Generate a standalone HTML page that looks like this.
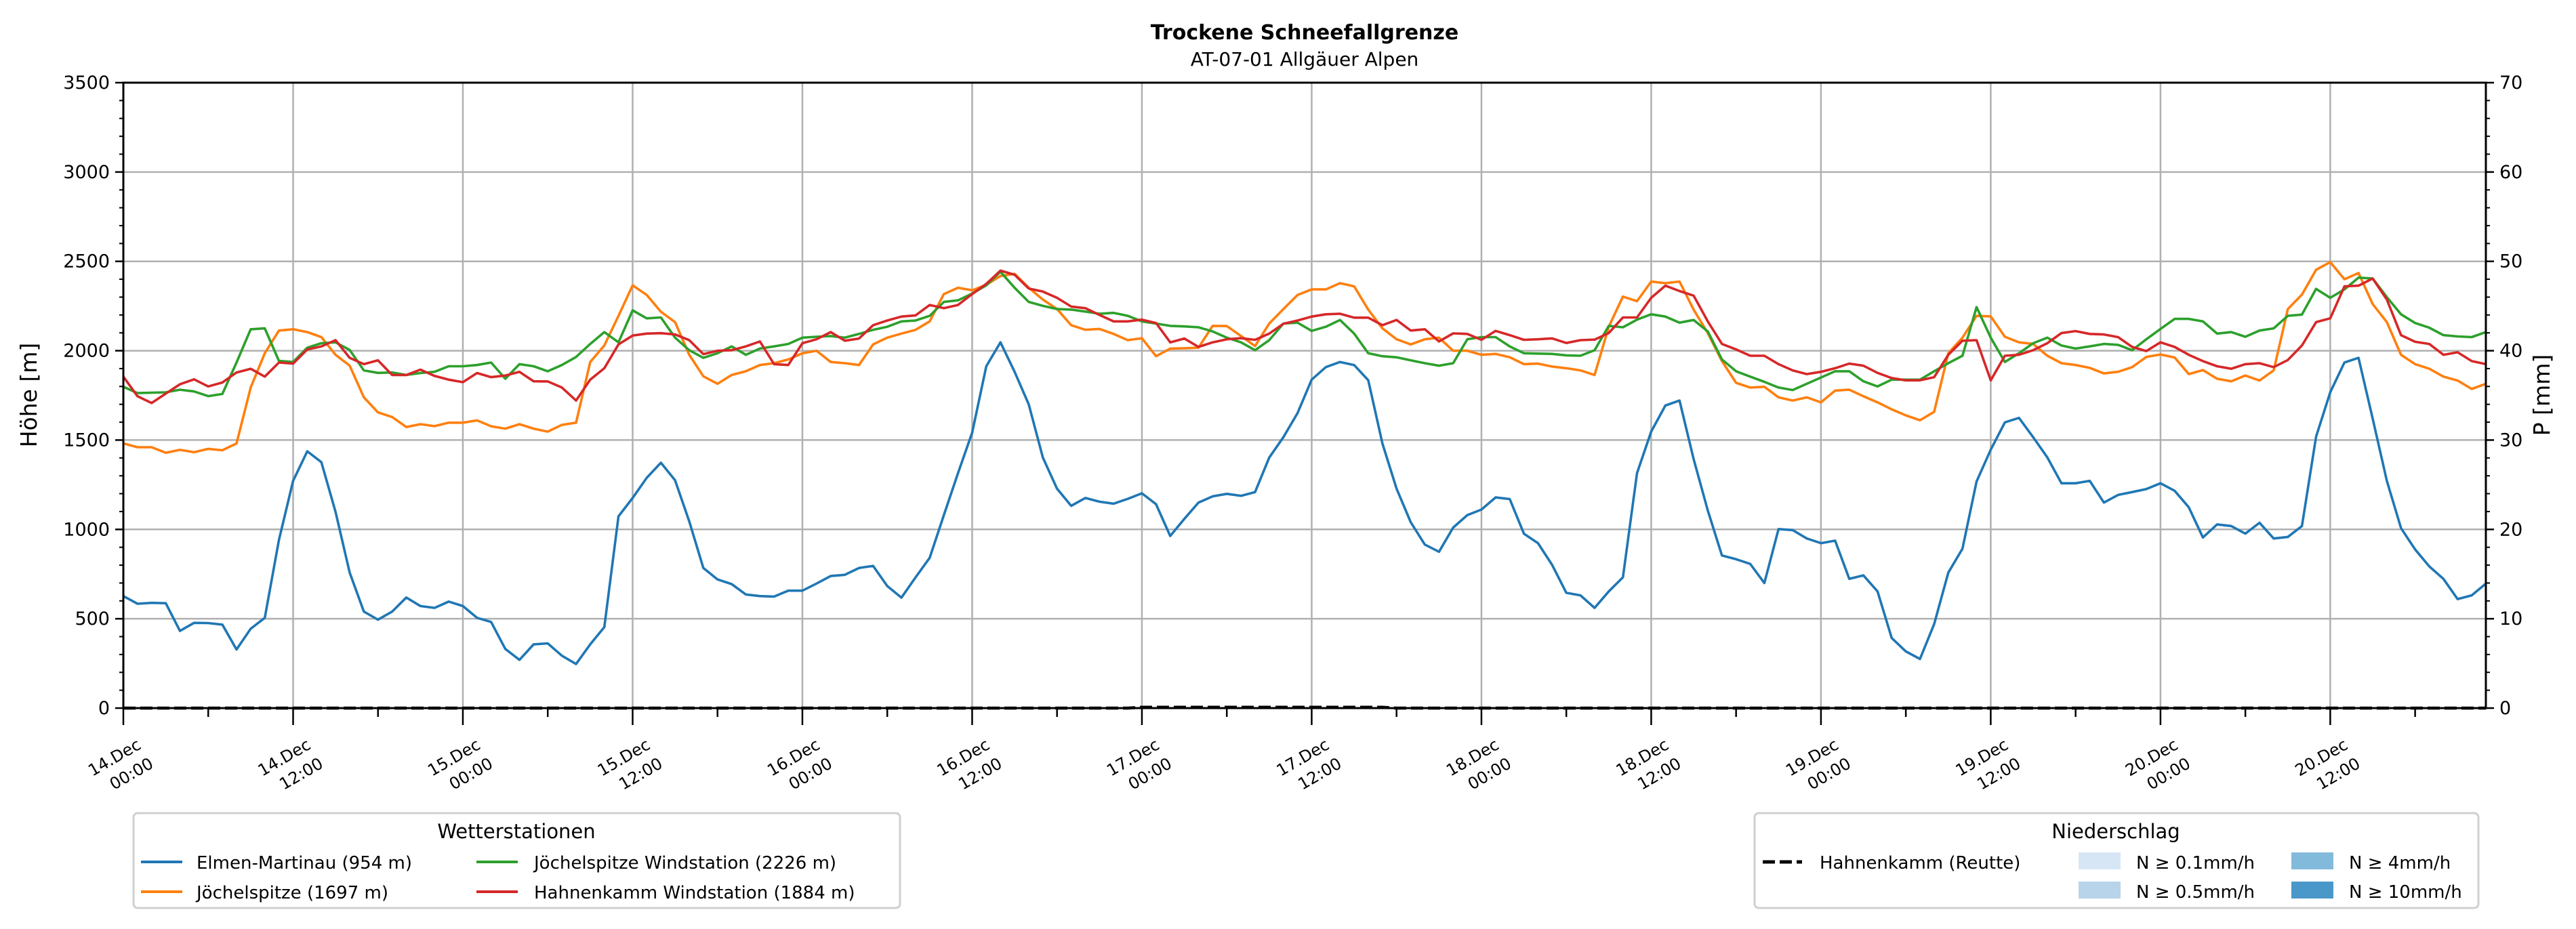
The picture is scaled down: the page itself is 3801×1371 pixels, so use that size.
<!DOCTYPE html>
<html><head><meta charset="utf-8"><style>
html,body{margin:0;padding:0;background:#fff;}
svg{display:block;font-family:"DejaVu Sans","Liberation Sans",sans-serif;}
</style></head><body>
<svg id="chart" width="3801" height="1371" viewBox="0 0 3801 1371" xmlns="http://www.w3.org/2000/svg">
<rect width="3801" height="1371" fill="#fff"/>
<text x="1925" y="58" text-anchor="middle" font-size="30" font-weight="bold">Trockene Schneefallgrenze</text>
<text x="1925" y="97" text-anchor="middle" font-size="28">AT-07-01 Allgäuer Alpen</text>
<g id="grid"></g>
<g id="series"></g>
<g id="axes"></g>
<text transform="translate(54,583) rotate(-90)" text-anchor="middle" font-size="33">Höhe [m]</text>
<text transform="translate(3762,583) rotate(-90)" text-anchor="middle" font-size="33">P [mm]</text>

<g>
<rect x="197" y="1200" width="1131" height="140" rx="6" fill="#fff" stroke="#d0d0d0" stroke-width="3"/>
<text x="762" y="1237" text-anchor="middle" font-size="29">Wetterstationen</text>
<g><line x1="208" y1="1272" x2="269" y2="1272" stroke="#1f77b4" stroke-width="4"/><text x="290" y="1282" font-size="26">Elmen-Martinau (954 m)</text></g>
<g><line x1="208" y1="1316" x2="269" y2="1316" stroke="#ff7f0e" stroke-width="4"/><text x="290" y="1326" font-size="26">Jöchelspitze (1697 m)</text></g>
<g><line x1="703" y1="1272" x2="764" y2="1272" stroke="#2ca02c" stroke-width="4"/><text x="788" y="1282" font-size="26">Jöchelspitze Windstation (2226 m)</text></g>
<g><line x1="703" y1="1316" x2="764" y2="1316" stroke="#d62728" stroke-width="4"/><text x="788" y="1326" font-size="26">Hahnenkamm Windstation (1884 m)</text></g>
</g>

<g>
<rect x="2589" y="1200" width="1068" height="140" rx="6" fill="#fff" stroke="#d0d0d0" stroke-width="3"/>
<text x="3122" y="1237" text-anchor="middle" font-size="29">Niederschlag</text>
<g><line x1="2601" y1="1272" x2="2659" y2="1272" stroke="#000" stroke-width="5" stroke-dasharray="18 7"/><text x="2685" y="1282" font-size="26">Hahnenkamm (Reutte)</text></g>
<g><rect x="3067" y="1258" width="62" height="25" fill="#d6e6f4"/><text x="3152" y="1282" font-size="26">N ≥ 0.1mm/h</text></g>
<g><rect x="3067" y="1301" width="62" height="25" fill="#b7d4ea"/><text x="3152" y="1325" font-size="26">N ≥ 0.5mm/h</text></g>
<g><rect x="3381" y="1258" width="62" height="25" fill="#82badb"/><text x="3466" y="1282" font-size="26">N ≥ 4mm/h</text></g>
<g><rect x="3381" y="1301" width="62" height="25" fill="#4a98c9"/><text x="3466" y="1325" font-size="26">N ≥ 10mm/h</text></g>
</g>

<script>
const hours = Array.from({length:168},(_,i)=>i);
const elmen = [627,584,589,587,432,477,476,467,328,444,505,941,1272,1437,1376,1098,758,540,495,540,619,571,561,596,571,505,482,331,270,357,362,293,247,357,453,1073,1176,1289,1373,1275,1045,784,720,694,636,627,624,657,657,697,739,746,784,796,683,618,732,841,1080,1315,1542,1913,2047,1882,1699,1402,1228,1132,1176,1155,1144,1171,1202,1141,963,1059,1150,1185,1199,1188,1209,1402,1516,1651,1838,1908,1937,1920,1835,1481,1228,1040,915,875,1010,1080,1111,1179,1170,976,923,801,645,631,561,653,732,1315,1547,1693,1721,1394,1106,854,833,807,700,1002,996,949,923,937,723,743,653,392,317,275,470,758,892,1268,1446,1599,1624,1516,1403,1258,1258,1272,1150,1193,1209,1226,1258,1216,1124,955,1028,1019,976,1037,949,958,1019,1519,1768,1934,1960,1620,1272,1007,888,793,723,610,631,697];
const joechel = [1481,1460,1460,1429,1445,1432,1451,1443,1481,1794,1986,2113,2120,2104,2076,1977,1916,1739,1655,1629,1573,1589,1578,1597,1597,1610,1577,1564,1589,1564,1547,1585,1597,1937,2029,2195,2366,2312,2218,2160,1977,1857,1815,1864,1885,1920,1930,1951,1986,2000,1937,1930,1920,2035,2073,2096,2117,2164,2317,2352,2338,2369,2418,2430,2352,2286,2233,2143,2117,2122,2094,2059,2070,1969,2012,2014,2017,2139,2138,2082,2026,2152,2233,2312,2343,2343,2378,2360,2230,2125,2064,2035,2064,2073,2000,2000,1977,1982,1963,1925,1928,1911,1902,1890,1864,2134,2303,2277,2387,2378,2387,2230,2099,1942,1820,1794,1798,1739,1721,1739,1711,1777,1782,1745,1711,1672,1638,1611,1658,1986,2073,2195,2192,2078,2047,2038,1972,1930,1920,1904,1873,1882,1908,1965,1979,1962,1869,1892,1843,1829,1861,1833,1890,2233,2314,2453,2496,2400,2435,2261,2160,1977,1925,1899,1855,1833,1786,1815];
const joechelWind = [1798,1763,1765,1767,1782,1772,1746,1758,1934,2120,2125,1943,1937,2017,2042,2047,2004,1890,1876,1878,1864,1875,1882,1913,1913,1920,1934,1843,1925,1913,1885,1920,1965,2038,2104,2047,2226,2181,2186,2073,2003,1960,1986,2024,1977,2012,2024,2038,2073,2078,2082,2073,2094,2117,2134,2164,2169,2195,2273,2282,2320,2366,2442,2352,2273,2251,2233,2230,2219,2207,2212,2195,2164,2152,2139,2136,2131,2108,2073,2047,2003,2059,2152,2157,2111,2134,2172,2096,1986,1969,1963,1946,1930,1916,1930,2064,2076,2076,2024,1986,1984,1982,1974,1972,2003,2139,2131,2174,2204,2191,2157,2172,2108,1951,1885,1855,1826,1794,1780,1815,1850,1885,1885,1829,1800,1838,1838,1838,1885,1930,1972,2244,2073,1937,1986,2042,2073,2029,2012,2024,2038,2033,2003,2064,2122,2178,2178,2164,2096,2104,2078,2113,2125,2195,2202,2346,2296,2343,2409,2404,2300,2204,2155,2129,2087,2080,2076,2104];
const hahnWind = [1855,1745,1707,1760,1812,1840,1800,1822,1878,1899,1855,1934,1928,2007,2024,2059,1960,1925,1946,1864,1864,1894,1859,1838,1824,1875,1852,1861,1882,1829,1828,1794,1721,1838,1902,2035,2085,2096,2098,2091,2059,1981,2000,2003,2024,2052,1925,1920,2042,2064,2104,2056,2068,2143,2169,2191,2198,2256,2238,2256,2317,2374,2448,2425,2348,2331,2296,2247,2238,2200,2164,2164,2174,2155,2047,2068,2021,2047,2064,2070,2061,2096,2151,2169,2191,2204,2207,2185,2185,2143,2172,2113,2120,2052,2097,2094,2061,2111,2087,2061,2064,2069,2043,2059,2062,2099,2186,2186,2296,2364,2334,2308,2164,2038,2007,1972,1972,1925,1890,1869,1882,1902,1928,1916,1876,1847,1834,1834,1852,1977,2056,2059,1834,1972,1977,2003,2042,2099,2110,2094,2091,2076,2021,1998,2047,2021,1977,1942,1913,1899,1925,1930,1908,1948,2029,2160,2181,2360,2364,2404,2286,2087,2050,2038,1977,1991,1942,1925];
const precip = [0,0,0,0,0,0,0,0,0,0,0,0,0,0,0,0,0,0,0,0,0,0,0,0,0,0,0,0,0,0,0,0,0,0,0,0,0,0,0,0,0,0,0,0,0,0,0,0,0,0,0,0,0,0,0,0,0,0,0,0,0,0,0,0,0,0,0,0,0,0,0,0,0.1,0.1,0.1,0.1,0.1,0.1,0.1,0.1,0.1,0.1,0.1,0.1,0.1,0.1,0.1,0.1,0.1,0.1,0,0,0,0,0,0,0,0,0,0,0,0,0,0,0,0,0,0,0,0,0,0,0,0,0,0,0,0,0,0,0,0,0,0,0,0,0,0,0,0,0,0,0,0,0,0,0,0,0,0,0,0,0,0,0,0,0,0,0,0,0,0,0,0,0,0,0,0,0,0,0,0,0,0,0,0,0,0,0,0];
const yTicks = [0,500,1000,1500,2000,2500,3000,3500];
const y2Ticks = [0,10,20,30,40,50,60,70];
const xTickHours = [0,12,24,36,48,60,72,84,96,108,120,132,144,156];
const xTickDays = ["14.Dec","14.Dec","15.Dec","15.Dec","16.Dec","16.Dec","17.Dec","17.Dec","18.Dec","18.Dec","19.Dec","19.Dec","20.Dec","20.Dec"];
const xTickTimes = ["00:00","12:00","00:00","12:00","00:00","12:00","00:00","12:00","00:00","12:00","00:00","12:00","00:00","12:00"];

const L=182,R=3668,T=122,B=1045,XMAX=167,YMAX=3500,Y2MAX=70;
const sx=h=>L+(R-L)*h/XMAX;
const sy=v=>B-(B-T)*v/YMAX;
const sy2=v=>B-(B-T)*v/Y2MAX;
const NS='http://www.w3.org/2000/svg';
function mk(tag,attrs,parent){const e=document.createElementNS(NS,tag);for(const k in attrs)e.setAttribute(k,attrs[k]);parent.appendChild(e);return e;}
const grid=document.getElementById('grid'),axes=document.getElementById('axes'),series=document.getElementById('series');

yTicks.forEach(v=>{
  const g=mk('line',{x1:L,x2:R,y1:sy(v),y2:sy(v),stroke:'#b0b0b0','stroke-width':2.5},grid);
  
  
});
xTickHours.forEach(h=>{
  const g=mk('line',{x1:sx(h),x2:sx(h),y1:T,y2:B,stroke:'#b0b0b0','stroke-width':2.5},grid);
  
  
});

const seriesDefs=[['elmen-line',elmen,'#1f77b4'],['joechelspitze-line',joechel,'#ff7f0e'],['joechelspitze-wind-line',joechelWind,'#2ca02c'],['hahnenkamm-wind-line',hahnWind,'#d62728']];
seriesDefs.forEach(([name,data,col])=>{
  const d=data.map((v,i)=>(i?'L':'M')+sx(hours[i]).toFixed(1)+','+sy(v).toFixed(1)).join('');
  const p=mk('path',{d:d,fill:'none',stroke:col,'stroke-width':3.6,'stroke-linejoin':'round'},series);
  
  
});
const pd=precip.map((v,i)=>(i?'L':'M')+sx(hours[i]).toFixed(1)+','+sy2(v).toFixed(1)).join('');
const pp=mk('path',{d:pd,fill:'none',stroke:'#000','stroke-width':4.5,'stroke-dasharray':'18 7'},series);



const frame=mk('rect',{x:L,y:T,width:R-L,height:B-T,fill:'none',stroke:'#000','stroke-width':3},axes);



for(let v=0;v<=YMAX;v+=100){
  const major=v%500===0;
  mk('line',{x1:L,x2:L-(major?12:6),y1:sy(v),y2:sy(v),stroke:'#000','stroke-width':major?2.5:2},axes);
}
yTicks.forEach(v=>{
  const t=mk('text',{x:L-20,y:sy(v)+9,'text-anchor':'end','font-size':27},axes);
  t.textContent=v;
  
  
});
for(let v=0;v<=Y2MAX;v+=2){
  const major=v%10===0;
  mk('line',{x1:R,x2:R+(major?12:6),y1:sy2(v),y2:sy2(v),stroke:'#000','stroke-width':major?2.5:2},axes);
}
y2Ticks.forEach(v=>{
  const t=mk('text',{x:R+20,y:sy2(v)+9,'text-anchor':'start','font-size':27},axes);
  t.textContent=v;
  
  
});
for(let h=0;h<=XMAX;h+=6){
  const major=h%12===0;
  mk('line',{x1:sx(h),x2:sx(h),y1:B,y2:B+(major?25:13),stroke:'#000','stroke-width':2.5},axes);
}
xTickHours.forEach((h,i)=>{
  const x=sx(h);
  const t1=mk('text',{x:x-13,y:1118+8,'text-anchor':'middle','font-size':24,transform:`rotate(-30 ${x-13} 1118)`},axes);
  t1.textContent=xTickDays[i];
  
  
  const t2=mk('text',{x:x+12,y:1142+8,'text-anchor':'middle','font-size':24,transform:`rotate(-30 ${x+12} 1142)`},axes);
  t2.textContent=xTickTimes[i];
  
  
});
</script>
</svg>
</body></html>
